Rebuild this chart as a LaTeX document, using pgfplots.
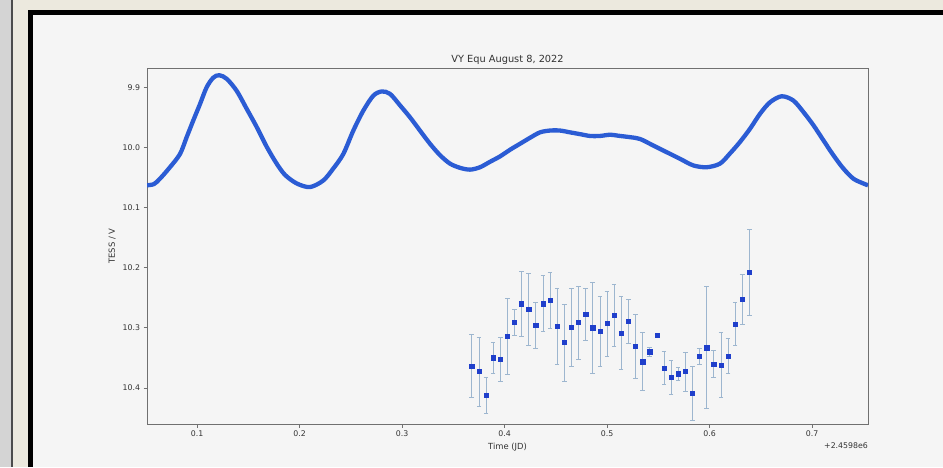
\documentclass[border=0pt]{standalone}
\usepackage{fontspec}
\setmainfont{DejaVu Sans}
\usepackage{pgfplots}
\usepackage{pgfplotstable}
\pgfplotsset{compat=1.18}
\definecolor{lcblue}{HTML}{2B5CD4}
\definecolor{ptblue}{HTML}{1F3FCB}
\definecolor{errc}{HTML}{9DB6CF}
\definecolor{paper}{HTML}{F5F5F5}
\definecolor{desk}{HTML}{ECE9DE}
\definecolor{strip}{HTML}{D4D4D4}
\definecolor{spine}{HTML}{707070}
\definecolor{ink}{HTML}{333333}

% TESS light curve
\pgfplotstableread{
x y
0.0512 10.063
0.0580 10.061
0.0639 10.052
0.0736 10.033
0.0834 10.011
0.0899 9.983
0.0964 9.955
0.1029 9.928
0.1094 9.900
0.1159 9.884
0.1217 9.880
0.1290 9.886
0.1387 9.906
0.1485 9.936
0.1582 9.966
0.1680 9.999
0.1777 10.027
0.1860 10.046
0.1973 10.060
0.2102 10.066
0.2232 10.055
0.2330 10.035
0.2427 10.011
0.2525 9.972
0.2622 9.939
0.2720 9.914
0.2802 9.907
0.2883 9.911
0.2980 9.930
0.3078 9.950
0.3175 9.972
0.3273 9.994
0.3371 10.013
0.3468 10.027
0.3566 10.034
0.3663 10.037
0.3761 10.033
0.3858 10.024
0.3956 10.015
0.4053 10.004
0.4151 9.994
0.4249 9.984
0.4346 9.975
0.4444 9.972
0.4541 9.972
0.4639 9.975
0.4737 9.978
0.4834 9.981
0.4932 9.981
0.5029 9.979
0.5127 9.981
0.5224 9.983
0.5322 9.986
0.5452 9.997
0.5582 10.008
0.5712 10.019
0.5842 10.030
0.5973 10.033
0.6102 10.027
0.6200 10.010
0.6297 9.991
0.6395 9.969
0.6493 9.944
0.6590 9.925
0.6704 9.915
0.6817 9.922
0.6915 9.941
0.7013 9.963
0.7110 9.988
0.7208 10.013
0.7305 10.035
0.7403 10.052
0.7500 10.060
0.7546 10.063
}\lightcurve

% V-band points with errors
\pgfplotstableread{
x y e
0.3680 10.3636 0.0524
0.3749 10.3724 0.0574
0.3819 10.4121 0.0306
0.3888 10.3497 0.0254
0.3958 10.3525 0.0373
0.4027 10.3139 0.0637
0.4097 10.2907 0.0215
0.4166 10.2598 0.0541
0.4236 10.2685 0.0599
0.4305 10.2962 0.0383
0.4374 10.2598 0.0466
0.4444 10.2543 0.0464
0.4513 10.2978 0.0637
0.4583 10.3243 0.0640
0.4652 10.2990 0.0648
0.4722 10.2912 0.0604
0.4791 10.2780 0.0436
0.4861 10.3000 0.0751
0.4930 10.3061 0.0579
0.4999 10.2929 0.0538
0.5069 10.2791 0.0511
0.5138 10.3089 0.0608
0.5208 10.2896 0.0364
0.5277 10.3305 0.0530
0.5347 10.3563 0.0483
0.5416 10.3397 0.0072
0.5486 10.3123 0.0020
0.5555 10.3669 0.0279
0.5624 10.3823 0.0281
0.5694 10.3762 0.0103
0.5763 10.3728 0.0323
0.5833 10.4093 0.0452
0.5902 10.3470 0.0130
0.5972 10.3331 0.1013
0.6041 10.3603 0.0221
0.6111 10.3619 0.0544
0.6180 10.3470 0.0292
0.6249 10.2937 0.0358
0.6319 10.2526 0.0422
0.6388 10.2073 0.0712
}\vmags

\begin{document}
\begin{tikzpicture}[x=1pt,y=1pt]
\useasboundingbox (0,0) rectangle (943,467);
\fill[desk] (0,0) rectangle (943,467);
\fill[strip] (0,0) rectangle (11,467);
\fill[black!70] (11,0) rectangle (12.8,467);
% screenshot frame: only left and top edges are in view
\fill[black] (27.5,0) rectangle (33,457);
\fill[black] (27.5,452) rectangle (943,457);
\fill[paper] (33,0) rectangle (943,452);
\begin{axis}[
  name=ax,
  at={(147pt,43pt)}, anchor=south west,
  scale only axis, width=721pt, height=356pt,
  xmin=0.0512, xmax=0.7546, ymin=9.868, ymax=10.460, y dir=reverse,
  xtick={0.1,0.2,0.3,0.4,0.5,0.6,0.7},
  xticklabels={0.1,0.2,0.3,0.4,0.5,0.6,0.7},
  ytick={9.9,10.0,10.1,10.2,10.3,10.4},
  yticklabels={9.9,10.0,10.1,10.2,10.3,10.4},
  tick align=outside, tick pos=left, major tick length=3.5pt,
  axis line style={spine, line width=0.8pt},
  tick style={spine, line width=0.8pt},
  tick label style={font=\fontsize{7.8}{9}\selectfont, text=ink},
  axis background/.style={fill=paper},
  title={VY Equ August 8, 2022},
  title style={font=\fontsize{9.8}{11}\selectfont, text=ink, yshift=-6.5pt},
  xlabel={Time (JD)}, ylabel={TESS / V},
  label style={font=\fontsize{8.4}{10}\selectfont, text=ink},
  xlabel style={yshift=1pt},
]
\addplot[lcblue, line width=4.3pt, smooth] table[x=x, y=y] {\lightcurve};
\addplot[only marks, mark=square*, mark size=2.1pt,
  mark options={draw=ptblue, fill=ptblue},
  error bars/.cd, y dir=both, y explicit,
  error bar style={errc, line width=0.6pt},
  error mark options={errc, rotate=90, mark size=2.3pt, line width=0.6pt}]
  table[x=x, y=y, y error=e] {\vmags};
\end{axis}
\node[anchor=north east, font=\fontsize{7.8}{9}\selectfont, text=ink,
  inner sep=0pt] at ([yshift=-18.5pt]ax.south east) {+2.4598e6};
\end{tikzpicture}
\end{document}
